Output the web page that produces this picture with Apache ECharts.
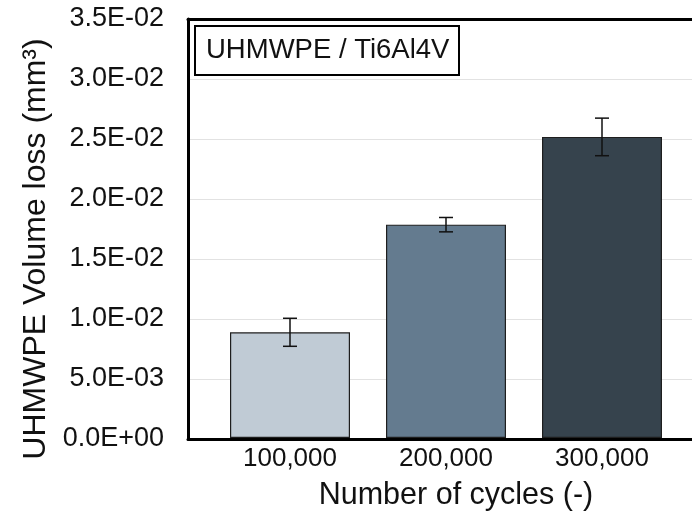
<!DOCTYPE html>
<html>
<head>
<meta charset="utf-8">
<script src="https://cdn.jsdelivr.net/npm/echarts@6/dist/echarts.min.js"></script>
<style>
html,body{margin:0;padding:0;background:#fff;}
#chart{width:692px;height:516px;}
</style>
</head>
<body>
<div id="chart"></div>
<script>
const categories = ['100,000', '200,000', '300,000'];
const volumeLoss = [0.00883, 0.01782, 0.02515];
const errors = [0.00117, 0.00060, 0.00157];
const barColors = ['#c0cbd5', '#647b8f', '#36434d'];
const legendText = 'UHMWPE / Ti6Al4V';
const yTitle = 'UHMWPE Volume loss (mm³)';
const xTitle = 'Number of cycles (-)';
const yMin = 0, yMax = 0.035, yStep = 0.005;

function sci(v) {
  if (Math.abs(v) < 1e-12) return '0.0E+00';
  let e = Math.floor(Math.log10(v) + 1e-9);
  let m = v / Math.pow(10, e);
  let ms = m.toFixed(1);
  if (ms === '10.0') { e += 1; ms = '1.0'; }
  const sign = e < 0 ? '-' : '+';
  const ea = Math.abs(e);
  return ms + 'E' + sign + (ea < 10 ? '0' + ea : '' + ea);
}

const chart = echarts.init(document.getElementById('chart'), null, {renderer: 'canvas'});
const font = 'Liberation Sans, Arial, sans-serif';
const frameLine = {show: true, lineStyle: {color: '#000', width: 3}};

const option = {
  animation: false,
  backgroundColor: '#ffffff',
  title: {
    text: legendText,
    left: 195, top: 26,
    padding: [9, 10, 9, 11],
    borderColor: '#000', borderWidth: 2,
    backgroundColor: '#fff',
    textStyle: {fontFamily: font, fontSize: 27.5, fontWeight: 'normal', color: '#111', lineHeight: 31}
  },
  grid: [
    {left: 188, top: 19, right: 0, bottom: 77, show: false},
    {left: 212, top: 19, width: 468, bottom: 77}
  ],
  xAxis: [
    {type: 'value', gridIndex: 0, min: 0, max: 1, position: 'bottom',
     axisLine: frameLine, axisTick: {show: false}, axisLabel: {show: false}, splitLine: {show: false}},
    {type: 'value', gridIndex: 0, min: 0, max: 1, position: 'top',
     axisLine: frameLine, axisTick: {show: false}, axisLabel: {show: false}, splitLine: {show: false}},
    {
      type: 'category', gridIndex: 1, data: categories,
      axisLine: {show: false}, axisTick: {show: false},
      axisLabel: {fontFamily: font, fontSize: 26, color: '#111', margin: 8},
      name: xTitle, nameLocation: 'middle', nameGap: 42,
      nameTextStyle: {fontFamily: font, fontSize: 30.5, color: '#111', padding: [0, 0, 0, 20]}
    }
  ],
  yAxis: [
    {
      type: 'value', gridIndex: 0, min: yMin, max: yMax, interval: yStep,
      axisLine: frameLine, axisTick: {show: false},
      splitLine: {show: true, lineStyle: {color: '#e2e2e2', width: 1}},
      axisLabel: {fontFamily: font, fontSize: 27, color: '#111', margin: 24, formatter: sci},
      name: yTitle, nameLocation: 'middle', nameRotate: 90, nameGap: 131,
      nameTextStyle: {fontFamily: font, fontSize: 32, color: '#111', padding: [0, 40, 0, 0]}
    },
    {type: 'value', gridIndex: 1, min: yMin, max: yMax, show: false}
  ],
  series: [
    {
      type: 'bar', xAxisIndex: 2, yAxisIndex: 1,
      barWidth: 120,
      data: volumeLoss.map((v, i) => ({value: v, itemStyle: {color: barColors[i]}})),
      itemStyle: {borderColor: '#1e1e1e', borderWidth: 1.2},
      z: 3
    },
    {
      type: 'custom', xAxisIndex: 2, yAxisIndex: 1, z: 5,
      data: volumeLoss.map((v, i) => [i, v - errors[i], v + errors[i]]),
      renderItem: function (params, api) {
        const lo = api.coord([api.value(0), api.value(1)]);
        const hi = api.coord([api.value(0), api.value(2)]);
        const hw = 7;
        const st = {stroke: '#111', lineWidth: 1.5};
        return {
          type: 'group',
          children: [
            {type: 'line', shape: {x1: hi[0], y1: hi[1], x2: lo[0], y2: lo[1]}, style: st},
            {type: 'line', shape: {x1: hi[0] - hw, y1: hi[1], x2: hi[0] + hw, y2: hi[1]}, style: st},
            {type: 'line', shape: {x1: lo[0] - hw, y1: lo[1], x2: lo[0] + hw, y2: lo[1]}, style: st}
          ]
        };
      }
    }
  ]
};
chart.setOption(option);
</script>
</body>
</html>
